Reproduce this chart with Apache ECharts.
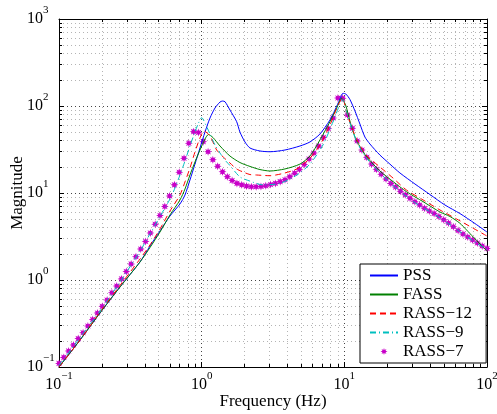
<!DOCTYPE html>
<html>
<head>
<meta charset="utf-8">
<title>Magnitude</title>
<script src="https://cdn.jsdelivr.net/npm/echarts@6/dist/echarts.min.js"></script>
<style>
  html, body { margin: 0; padding: 0; background: #fff; }
  #main { width: 497px; height: 414px; }
</style>
</head>
<body>
<div id="main"></div>
<script>
// frequency (Hz) and magnitude

var freqPSS = [0.1, 0.1403, 0.1937, 0.2676, 0.3694, 0.4342, 0.5102, 0.5995, 0.7045, 0.7637,
  0.8279, 0.8975, 0.973, 1.055, 1.144, 1.24, 1.344, 1.399, 1.457, 1.579,
  1.759, 1.855, 2.011, 2.181, 2.562, 3.01, 3.836, 4.886, 5.741, 6.745,
  7.927, 8.594, 9.316, 9.777, 10.26, 10.94, 11.87, 12.86, 13.94, 15.11,
  17.76, 20.86, 24.52, 31.24, 39.8, 50.7, 64.58, 82.28, 100];
var magPSS = [0.1, 0.204, 0.418, 0.831, 1.61, 2.46, 3.66, 5.44, 7.48, 9.48,
  14.1, 21.5, 32.9, 50.2, 72.8, 94.8, 111, 114, 112, 89.9,
  66.0, 50.2, 38.6, 32.9, 30.4, 29.8, 31.2, 34.7, 38.6, 47.6,
  69.0, 89.9, 120, 140, 137, 119, 87.7, 62.1, 44.0, 36.6,
  27.3, 21.5, 17.0, 12.7, 9.61, 7.28, 5.81, 4.46, 3.56];

var freqFASS = [0.1, 0.1403, 0.1937, 0.2676, 0.3694, 0.4342, 0.5102, 0.5995, 0.7045, 0.7637,
  0.8279, 0.8975, 0.973, 1.055, 1.116, 1.2, 1.344, 1.579, 1.855, 2.181,
  2.562, 3.01, 3.836, 4.886, 5.741, 6.745, 7.927, 8.83, 9.57, 10.26,
  10.94, 11.87, 12.86, 14.33, 17.76, 22.0, 27.3, 35.7, 46.8, 55.0,
  64.58, 71.9, 80.1, 100];
var magFASS = [0.1, 0.204, 0.418, 0.831, 1.61, 2.36, 3.56, 5.59, 8.31, 11.1,
  16.1, 22.7, 31.2, 41.8, 47.0, 43.4, 34.7, 26.6, 22.4, 20.2,
  18.6, 17.9, 18.9, 21.5, 26.6, 40.7, 66.0, 94.2, 123, 100,
  67.2, 44.0, 34.1, 26.1, 17.9, 13.5, 10.35, 7.94, 6.05, 5.37,
  4.49, 3.76, 3.12, 2.15];

var freqR12 = [0.1, 0.1403, 0.1937, 0.2676, 0.3694, 0.4342, 0.5102, 0.5995, 0.7045, 0.7637,
  0.8279, 0.8975, 0.973, 1.038, 1.144, 1.274, 1.417, 1.579, 1.759, 1.956,
  2.181, 2.429, 3.01, 3.731, 4.631, 5.741, 6.745, 7.927, 9.065, 9.73,
  10.38, 11.31, 12.26, 13.29, 14.4, 17.76, 22.0, 27.3, 35.7, 46.8,
  61.2, 80.1, 100];
var magR12 = [0.1, 0.204, 0.429, 0.865, 1.74, 2.53, 3.86, 6.21, 9.48, 13.4,
  19.4, 29.6, 42.9, 51.6, 45.2, 31.2, 25.9, 22.1, 18.9, 17.4,
  16.3, 16.1, 15.8, 16.8, 18.9, 25.1, 35.6, 60.5, 103, 123,
  83.2, 55.9, 40.7, 32.0, 26.6, 19.9, 14.8, 10.8, 8.31, 6.38,
  5.03, 3.93, 3.20];

var freqR9 = [0.1, 0.1403, 0.1937, 0.2676, 0.3694, 0.4342, 0.5102, 0.5995, 0.650, 0.7045,
  0.7637, 0.8279, 0.8975, 0.947, 1.0, 1.084, 1.144, 1.24, 1.344, 1.457,
  1.579, 1.855, 2.181, 2.689, 3.538, 4.654, 5.741, 7.079, 8.321, 9.316,
  9.777, 10.26, 11.31, 12.26, 13.29, 14.4, 16.93, 21.56, 27.03, 33.88,
  43.14, 54.08, 68.9, 86.35, 100];
var magR9 = [0.104, 0.218, 0.440, 0.948, 2.15, 3.38, 5.37, 8.53, 11.4, 16.1,
  23.3, 34.7, 50.2, 62.9, 73.4, 57.8, 47.6, 35.6, 28.8, 23.9,
  20.7, 15.3, 13.7, 12.4, 12.9, 16.1, 21.5, 35.6, 65.5, 105,
  119, 89.9, 54.4, 38.6, 30.4, 24.9, 18.4, 12.5, 9.24, 7.09,
  5.66, 4.40, 3.33, 2.59, 2.27];

// RASS-7 is drawn as markers only
var freqR7 = [0.1, 0.1081, 0.1168, 0.1262, 0.1364, 0.1475, 0.1594, 0.1722, 0.1861, 0.2011,
  0.2174, 0.2349, 0.2539, 0.2744, 0.2965, 0.3204, 0.3463, 0.3742, 0.4045, 0.4371,
  0.4724, 0.5105, 0.5517, 0.5962, 0.6443, 0.6963, 0.7524, 0.8131, 0.8787, 0.9496,
  1.026, 1.109, 1.198, 1.295, 1.400, 1.513, 1.635, 1.767, 1.909, 2.063,
  2.230, 2.410, 2.604, 2.814, 3.041, 3.287, 3.552, 3.839, 4.149, 4.483,
  4.845, 5.236, 5.658, 6.115, 6.608, 7.141, 7.718, 8.340, 9.017, 9.745,
  10.53, 11.38, 12.30, 13.29, 14.36, 15.53, 16.78, 18.13, 19.60, 21.18,
  22.89, 24.74, 26.73, 28.89, 31.22, 33.74, 36.46, 39.40, 42.58, 46.02,
  49.73, 53.74, 58.08, 62.77, 67.83, 73.30, 79.22, 85.61, 92.53, 100];
var magR7 = [0.110, 0.129, 0.153, 0.179, 0.212, 0.248, 0.296, 0.352, 0.418, 0.498,
  0.589, 0.715, 0.853, 1.03, 1.25, 1.53, 1.85, 2.27, 2.77, 3.47,
  4.37, 5.51, 7.00, 9.24, 12.4, 17.3, 25.1, 37.3, 50.7, 49.6,
  38.9, 29.8, 24.1, 20.3, 17.5, 15.4, 13.9, 12.9, 12.4, 12.0,
  11.8, 11.8, 11.9, 12.1, 12.5, 12.9, 13.5, 14.2, 15.4, 16.9,
  18.7, 21.3, 24.6, 28.8, 34.7, 43.5, 55.1, 72.8, 123.6, 122.6,
  78.8, 55.4, 39.6, 31.2, 25.7, 21.5, 18.7, 16.4, 14.5, 12.9,
  11.7, 10.5, 9.54, 8.69, 7.94, 7.28, 6.67, 6.21, 5.81, 5.37,
  4.93, 4.52, 4.10, 3.71, 3.38, 3.12, 2.88, 2.66, 2.46, 2.30];

var seriesNames = ['PSS', 'FASS', 'RASS\u221212', 'RASS\u22129', 'RASS\u22127'];
var xRange = [0.1, 100];
var yRange = [0.1, 1000];

var F = '"Liberation Serif", "Times New Roman", serif';

// asterisk marker
var starPath = 'path://M2,1 L1.45,1.19 L1.707,1.707 L1.19,1.45 L1,2 L0.81,1.45 L0.293,1.707 L0.55,1.19 ' +
  'L0,1 L0.55,0.81 L0.293,0.293 L0.81,0.55 L1,0 L1.19,0.55 L1.707,0.293 L1.45,0.81 Z';

function pairs(fs, ms){
  var out = [];
  for (var i = 0; i < fs.length; i++) out.push([fs[i], ms[i]]);
  return out;
}

//10^n tick labels
function expLabel(v){
  var e = Math.round(Math.log(v) / Math.LN10);
  return '{b|10}{s|' + (e < 0 ? '\u2212' + (-e) : e) + '}';
}

var labelRich = {
  b: {fontFamily: F, fontSize: 16, color: '#000', padding: [6, 0, 6, 0]},
  s: {fontFamily: F, fontSize: 11, color: '#000', verticalAlign: 'top'}
};

function logAxis(range, extra){
  var ax = {
    type: 'log', logBase: 10, min: range[0], max: range[1],
    axisLine: {show: true, lineStyle: {color: '#000', width: 1}},
    axisTick: {show: true, inside: true, length: 5, lineStyle: {color: '#000', width: 1}},
    minorTick: {show: true, splitNumber: 9, length: 3, lineStyle: {color: '#000', width: 1}},
    splitLine: {show: false},
    minorSplitLine: {show: false},
    axisLabel: {show: false}
  };
  for (var k in extra) ax[k] = extra[k];
  return ax;
}

// legend: lines without the dot, markers only for RASS-7
var legendData = seriesNames.map(function(n, i){
  return i < 4 ? {name: n, itemStyle: {opacity: 0}} : {name: n};
});

var chart = echarts.init(document.getElementById('main'), null, {renderer: 'canvas'});

chart.setOption({
  animation: false,
  backgroundColor: '#fff',
  grid: {left: 59, right: 10, top: 19, bottom: 47, containLabel: false, outerBoundsMode: 'none'},
  legend: {
    orient: 'vertical', left: 360, top: 264,
    padding: [3, 14, 3, 9], itemGap: 2, itemWidth: 28, itemHeight: 7,
    backgroundColor: '#fff', borderColor: '#000', borderWidth: 1, borderRadius: 0,
    textStyle: {fontFamily: F, fontSize: 17, color: '#000', lineHeight: 17},
    data: legendData
  },
  xAxis: [
    logAxis(xRange, {
      position: 'bottom',
      name: 'Frequency (Hz)', nameLocation: 'middle', nameGap: 26, nameMoveOverlap: false,
      nameTextStyle: {fontFamily: F, fontSize: 17, color: '#000'},
      splitLine: {show: true, lineStyle: {color: '#444', type: [1, 3], width: 1}},
      minorSplitLine: {show: true, lineStyle: {color: '#b4b4b4', type: [1, 3], width: 1}},
      axisLabel: {show: true, margin: 4, formatter: expLabel, rich: labelRich}
    }),
    logAxis(xRange, {position: 'top'})
  ],
  yAxis: [
    logAxis(yRange, {
      position: 'left',
      name: 'Magnitude', nameLocation: 'middle', nameGap: 33, nameMoveOverlap: false,
      nameTextStyle: {fontFamily: F, fontSize: 17, color: '#000'},
      splitLine: {show: true, lineStyle: {color: '#444', type: [1, 3], width: 1}},
      minorSplitLine: {show: true, lineStyle: {color: '#b4b4b4', type: [1, 3], width: 1}},
      axisLabel: {show: true, margin: 32, align: 'left', formatter: expLabel, rich: labelRich}
    }),
    logAxis(yRange, {position: 'right'})
  ],
  series: [
    {
      name: seriesNames[0], type: 'line', data: pairs(freqPSS, magPSS),
      symbol: 'none', smooth: 0.25,
      lineStyle: {color: '#0000ff', width: 1}, itemStyle: {color: '#0000ff'}
    },
    {
      name: seriesNames[1], type: 'line', data: pairs(freqFASS, magFASS),
      symbol: 'none', smooth: 0.25,
      lineStyle: {color: '#008000', width: 1}, itemStyle: {color: '#008000'}
    },
    {
      name: seriesNames[2], type: 'line', data: pairs(freqR12, magR12),
      symbol: 'none', smooth: 0.25,
      lineStyle: {color: '#ff0000', width: 1, type: [6, 4]}, itemStyle: {color: '#ff0000'}
    },
    {
      name: seriesNames[3], type: 'line', data: pairs(freqR9, magR9),
      symbol: 'none', smooth: 0.25,
      lineStyle: {color: '#00bfbf', width: 1, type: [6, 3, 1, 3]}, itemStyle: {color: '#00bfbf'}
    },
    {
      name: seriesNames[4], type: 'scatter', data: pairs(freqR7, magR7),
      symbol: starPath, symbolSize: 8,
      itemStyle: {color: '#c800c8', opacity: 1}
    }
  ]
});
</script>
</body>
</html>
